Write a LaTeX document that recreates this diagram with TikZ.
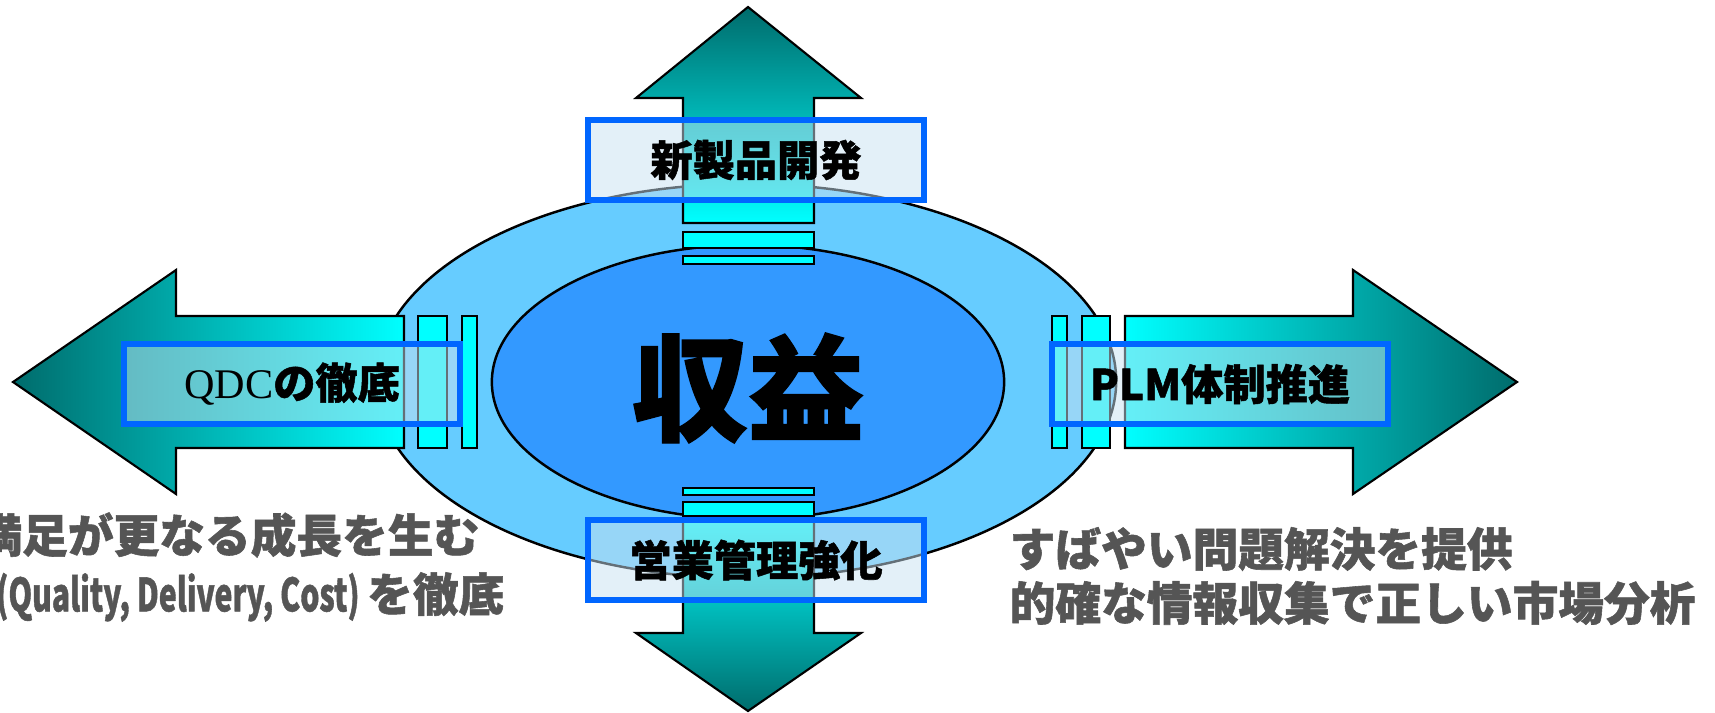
\documentclass[tikz,border=0pt]{standalone}
\usepackage{fontspec}
\usepackage{graphicx}
\setmainfont{Liberation Serif}
\newfontfamily\jpfont{Noto Sans CJK JP}[BoldFeatures={FakeBold=1.2}]

\definecolor{tealdark}{RGB}{0,108,108}
\definecolor{barcyan}{RGB}{0,255,255}
\definecolor{boxblue}{RGB}{0,102,255}
\definecolor{boxfill}{RGB}{200,225,241}
\definecolor{outerblue}{RGB}{102,204,255}
\definecolor{innerblue}{RGB}{51,153,255}
\definecolor{notegray}{RGB}{85,85,85}

\begin{document}
\begin{tikzpicture}[x=0.01cm, y=-0.01cm,
    outline/.style={draw=black, line width=0.6pt},
    bar/.style={outline, fill=barcyan},
    labelbox/.style={draw=boxblue, line width=1.7pt, fill=boxfill, fill opacity=0.5,
        text opacity=1, minimum width=3.35cm, minimum height=0.79cm, inner sep=0pt,
        font=\jpfont\bfseries\fontsize{12pt}{14pt}\selectfont},
    note/.style={text=notegray, inner sep=0pt,
        font=\jpfont\bfseries\fontsize{13pt}{15pt}\selectfont}]
    \useasboundingbox (0,0) rectangle (1715,712);

    % Ellipses
    \draw[fill=outerblue, line width=0.7pt] (746,381) ellipse [x radius=3.70cm, y radius=1.97cm];
    \draw[fill=innerblue, line width=0.7pt] (748,382) ellipse [x radius=2.56cm, y radius=1.37cm];

    % Up arrow
    \draw[outline, top color=tealdark, bottom color=barcyan]
        (748,7) -- (861,98) -- (814,98) -- (814,223) -- (683,223) -- (683,98) -- (636,98) -- cycle;
    \draw[bar] (683,232) rectangle (814,248);
    \draw[bar] (683,256) rectangle (814,264);

    % Down arrow
    \draw[outline, top color=barcyan, bottom color=tealdark]
        (748,711) -- (861,633) -- (814,633) -- (814,520) -- (683,520) -- (683,633) -- (636,633) -- cycle;
    \draw[bar] (683,488) rectangle (814,495);
    \draw[bar] (683,502) rectangle (814,516);

    % Left arrow
    \draw[outline, left color=tealdark, right color=barcyan]
        (13,382) -- (176,270) -- (176,316) -- (404,316) -- (404,448) -- (176,448) -- (176,494) -- cycle;
    \draw[bar] (418,316) rectangle (447,448);
    \draw[bar] (462,316) rectangle (477,448);

    % Right arrow
    \draw[outline, left color=barcyan, right color=tealdark]
        (1517,382) -- (1353,270) -- (1353,316) -- (1125,316) -- (1125,448) -- (1353,448) -- (1353,494) -- cycle;
    \draw[bar] (1082,316) rectangle (1110,448);
    \draw[bar] (1052,316) rectangle (1067,448);

    % Labels
    \node[labelbox] (newprod) at (756,160) {新製品開発};
    \node[labelbox] (sales) at (756,560) {営業管理強化};
    \node[labelbox] (qdc) at (292,384) {{\rmfamily\mdseries QDC}の徹底};
    \node[labelbox] (plm) at (1220,384) {PLM体制推進};
    \node[font=\jpfont\bfseries\fontsize{33pt}{36pt}\selectfont] (profit) at (748,388) {収益};

    % Notes
    \node[note, anchor=east] (growth) at (480,535) {満足が更なる成長を生む};
    \node[note, anchor=east] (qdcnote) at (505,597) {\scalebox{0.66}[1]{(Quality, Delivery, Cost)}\,を徹底};
    \node[note, anchor=west] (solve) at (1009,549) {すばやい問題解決を提供};
    \node[note, anchor=west] (market) at (1009,603) {的確な情報収集で正しい市場分析};
\end{tikzpicture}
\end{document}
